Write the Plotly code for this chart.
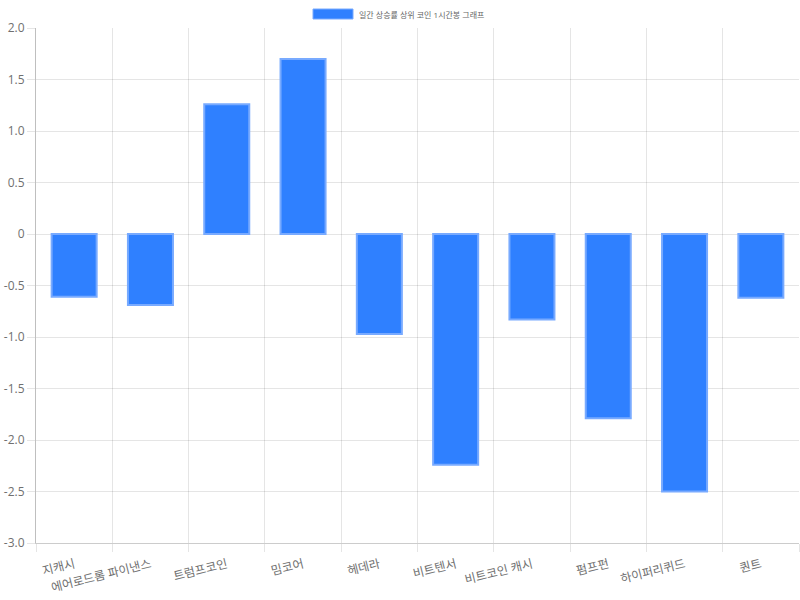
import plotly.graph_objects as go

categories = ["지캐시", "에어로드롬 파이낸스", "트럼프코인", "밈코어", "헤데라",
              "비트텐서", "비트코인 캐시", "펌프펀", "하이퍼리퀴드", "퀀트"]
values = [-0.61, -0.69, 1.26, 1.70, -0.97, -2.24, -0.83, -1.79, -2.50, -0.62]
series_name = "일간 상승률 상위 코인 1시간봉 그래프"
y_tickvals = [2.0, 1.5, 1.0, 0.5, 0, -0.5, -1.0, -1.5, -2.0, -2.5, -3.0]
y_ticktext = ["2.0", "1.5", "1.0", "0.5", "0", "-0.5", "-1.0", "-1.5", "-2.0", "-2.5", "-3.0"]

FONT = "Open Sans, Noto Sans CJK KR, sans-serif"
fill = "rgb(47,128,255)"
border = "rgb(120,170,255)"

fig = go.Figure()
fig.add_trace(go.Bar(
    x=categories, y=values, name=series_name,
    marker=dict(color=fill, line=dict(color=border, width=2)),
    width=0.59, showlegend=False,
))

grid = "rgba(0,0,0,0.1)"
fig.update_layout(
    width=800, height=600,
    margin=dict(l=36, r=1, t=28, b=57),
    paper_bgcolor="white", plot_bgcolor="white",
    font=dict(family=FONT, color="#666", size=12),
    bargap=0.4,
    xaxis=dict(
        type="category", tickangle=-14, tickson="boundaries",
        ticks="outside", ticklen=8, tickcolor=grid, automargin=False,
        ticklabelstandoff=9,
        showgrid=True, gridcolor=grid, gridwidth=1,
        showline=True, linecolor="rgba(0,0,0,0.2)", linewidth=1,
        mirror=False, zeroline=False,
        tickfont=dict(size=12, color="#707070", family=FONT),
    ),
    yaxis=dict(
        range=[-3, 2], tickvals=y_tickvals, ticktext=y_ticktext,
        ticks="outside", ticklen=8, tickcolor=grid, automargin=False,
        showgrid=True, gridcolor=grid, gridwidth=1,
        showline=True, linecolor="rgba(0,0,0,0.25)", linewidth=1,
        zeroline=True, zerolinecolor=grid, zerolinewidth=1,
        tickfont=dict(size=12, color="#707070", family=FONT),
    ),
    shapes=[dict(type="rect", xref="paper", yref="paper",
                 x0=(313 - 36) / 763, x1=(353 - 36) / 763,
                 y0=1 + (28 - 19) / 515, y1=1 + (28 - 9) / 515,
                 fillcolor=fill, line=dict(color=border, width=1))],
    annotations=[dict(text=series_name, xref="paper", yref="paper",
                      x=(357 - 36) / 763, y=1 + (28 - 14) / 515,
                      xanchor="left", yanchor="middle", showarrow=False,
                      font=dict(size=8, color="#666", family=FONT))],
)

post = ("document.body.style.margin='0';document.body.style.overflow='hidden';"
        "Plotly.relayout(document.getElementsByClassName('plotly-graph-div')[0], {width:800,height:600});")
fig.write_html("out.html", post_script=post,
               config={"responsive": False, "displayModeBar": False})
